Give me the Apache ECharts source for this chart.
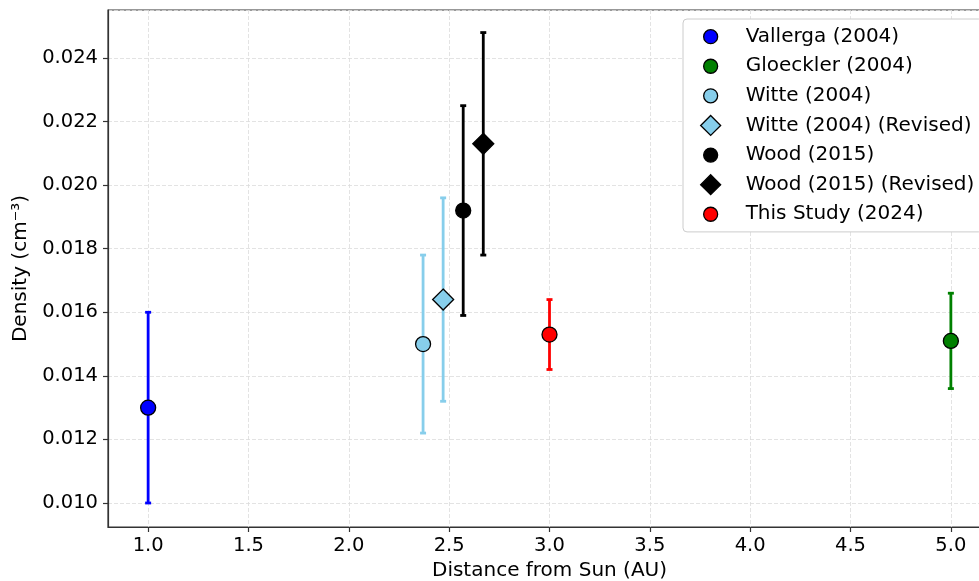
<!DOCTYPE html>
<html>
<head>
<meta charset="utf-8">
<script src="https://cdn.jsdelivr.net/npm/echarts@6/dist/echarts.min.js"></script>
<style>
html,body{margin:0;padding:0;background:#fff;}
#chart{width:979px;height:581px;}
</style>
</head>
<body>
<div id="chart"></div>
<script>
const labels = ['Vallerga (2004)', 'Gloeckler (2004)', 'Witte (2004)', 'Witte (2004) (Revised)', 'Wood (2015)', 'Wood (2015) (Revised)', 'This Study (2024)'];
const distances = [1.0, 5.0, 2.37, 2.47, 2.57, 2.67, 3.0];
const densities = [0.0130, 0.0151, 0.0150, 0.0164, 0.0192, 0.0213, 0.0153];
const errors = [0.0030, 0.0015, 0.0028, 0.0032, 0.0033, 0.0035, 0.0011];
const colors = ['#0000ff', '#008000', '#87ceeb', '#87ceeb', '#000000', '#000000', '#ff0000'];
const shapes = ['circle', 'circle', 'circle', 'diamond', 'circle', 'diamond', 'circle'];

const FONT = 'DejaVu Sans';
const circlePath = 'path://M-10 -10 M10 10 M-7 0 A7 7 0 1 0 7 0 A7 7 0 1 0 -7 0 Z';
const diamondPath = 'path://M0 -10 L10 0 L0 10 L-10 0 Z';

const chart = echarts.init(document.getElementById('chart'), null, {renderer: 'canvas'});

const series = [];
labels.forEach((name, i) => {
  series.push({
    type: 'custom',
    name: name + ' err',
    z: 2 + i * 2,
    data: [[distances[i], densities[i], densities[i] - errors[i], densities[i] + errors[i]]],
    renderItem: function (params, api) {
      const x = api.value(0);
      const lo = api.coord([x, api.value(2)]);
      const hi = api.coord([x, api.value(3)]);
      const c = 3;
      const style = {stroke: colors[i], lineWidth: 2.8};
      return {
        type: 'group',
        children: [
          {type: 'line', shape: {x1: lo[0], y1: lo[1], x2: hi[0], y2: hi[1]}, style: style},
          {type: 'line', shape: {x1: lo[0] - c, y1: lo[1], x2: lo[0] + c, y2: lo[1]}, style: style},
          {type: 'line', shape: {x1: hi[0] - c, y1: hi[1], x2: hi[0] + c, y2: hi[1]}, style: style}
        ]
      };
    },
    silent: true
  });
  series.push({
    type: 'scatter',
    name: name,
    z: 3 + i * 2,
    symbol: shapes[i],
    symbolSize: shapes[i] === 'diamond' ? 21 : 15,
    itemStyle: {color: colors[i], borderColor: '#000', borderWidth: 1.3, opacity: 1},
    data: [[distances[i], densities[i]]],
    silent: true
  });
});

const option = {
  animation: false,
  backgroundColor: '#fff',
  textStyle: {fontFamily: FONT},
  grid: {left: 108, top: 10, width: 883, height: 517, outerBoundsMode: 'none', containLabel: false,
    show: true, borderColor: '#333', borderWidth: 1.2, backgroundColor: 'transparent'},
  xAxis: {
    type: 'value',
    min: 0.8, max: 5.2,
    splitNumber: 9,
    name: 'Distance from Sun (AU)',
    nameLocation: 'middle',
    nameGap: 33,
    nameTextStyle: {fontFamily: FONT, fontSize: 20, color: '#000'},
    axisLine: {show: true, onZero: false, lineStyle: {color: '#333', width: 1.2}},
    axisTick: {show: true, length: 5, lineStyle: {color: '#333', width: 1.2}},
    axisLabel: {showMinLabel: false, showMaxLabel: false, fontFamily: FONT, fontSize: 19.5, color: '#000', margin: 9,
      formatter: v => (Math.abs(v * 2 - Math.round(v * 2)) < 1e-6 ? v.toFixed(1) : '')},
    splitLine: {show: true, lineStyle: {color: '#dcdcdc', type: [4, 2], width: 0.8}}
  },
  yAxis: {
    type: 'value',
    min: 0.009245, max: 0.02551,
    splitNumber: 8,
    name: 'Density (cm⁻³)',
    nameLocation: 'middle',
    nameGap: 71,
    nameRotate: 90,
    nameTextStyle: {fontFamily: FONT, fontSize: 20, color: '#000'},
    axisLine: {show: true, lineStyle: {color: '#333', width: 1.2}},
    axisTick: {show: true, length: 5, lineStyle: {color: '#333', width: 1.2}},
    axisLabel: {showMinLabel: false, showMaxLabel: false, fontFamily: FONT, fontSize: 19.5, color: '#000', margin: 10,
      formatter: v => v.toFixed(3)},
    splitLine: {show: true, lineStyle: {color: '#dcdcdc', type: [4, 2], width: 0.8}}
  },
  legend: {
    orient: 'vertical',
    left: 683,
    top: 19,
    padding: [7, 8, 7, 17],
    itemWidth: 20,
    itemHeight: 20,
    itemGap: 8.3,
    backgroundColor: '#fff',
    borderColor: '#cccccc',
    borderWidth: 1,
    borderRadius: 4,
    selectedMode: false,
    textStyle: {fontFamily: FONT, fontSize: 20, lineHeight: 20, color: '#000', padding: [0, 0, 0, 20]},
    data: labels.map((n, i) => ({
      name: n,
      icon: shapes[i] === 'diamond' ? diamondPath : circlePath,
      itemStyle: {color: colors[i], borderColor: '#000', borderWidth: 1.3}
    }))
  },
  series: series
};
chart.setOption(option);
</script>
</body>
</html>
